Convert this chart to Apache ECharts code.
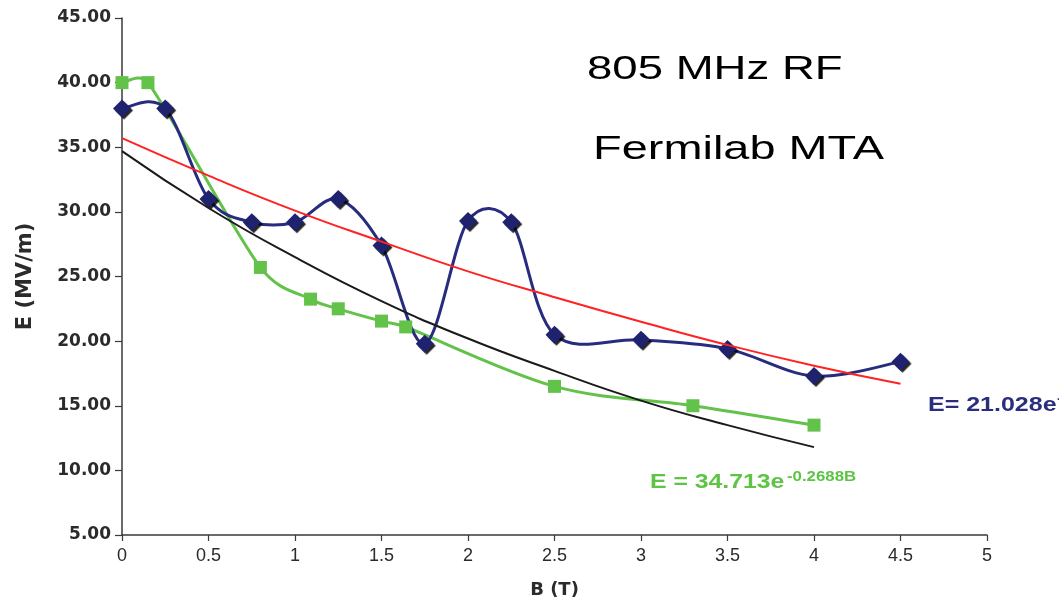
<!DOCTYPE html>
<html>
<head>
<meta charset="utf-8">
<script src="https://cdn.jsdelivr.net/npm/echarts@6/dist/echarts.min.js"></script>
<style>
  html, body { margin: 0; padding: 0; background: #ffffff; }
  #chart { width: 1059px; height: 606px; }
</style>
</head>
<body>
<div id="chart"></div>
<script>
// ---- Data ----
// Blue series (diamonds)
const blueB = [0, 0.25, 0.5, 0.75, 1.0, 1.25, 1.5, 1.75, 2.0, 2.25, 2.5, 3.0, 3.5, 4.0, 4.5];
const blueE = [38.0, 38.0, 31.0, 29.2, 29.2, 31.0, 27.4, 19.8, 29.3, 29.2, 20.5, 20.1, 19.4, 17.3, 18.4];
// Green series (squares)
const greenB = [0, 0.15, 0.8, 1.09, 1.25, 1.5, 1.64, 2.5, 3.3, 4.0];
const greenE = [40.0, 40.0, 25.7, 23.25, 22.5, 21.55, 21.1, 16.5, 15.0, 13.5];
// Red trend line
const redB = [0, 0.5, 1.0, 1.5, 2.0, 2.5, 3.0, 3.5, 4.0, 4.5];
const redE = [35.7, 32.8, 30.1, 27.7, 25.4, 23.4, 21.5, 19.7, 18.1, 16.7];
// Black trend line
const blackB = [0, 0.5, 1.0, 1.5, 2.0, 2.5, 3.0, 3.5, 4.0];
const blackE = [34.7, 30.3, 26.5, 23.1, 20.2, 17.7, 15.4, 13.5, 11.8];

// Axis settings
const xMin = 0, xMax = 5, xStep = 0.5;
const yMin = 5, yMax = 45, yStep = 5;

// Texts
const titleLine1 = '805 MHz RF';
const titleLine2 = 'Fermilab MTA';
const blueEq = 'E= 21.028e';
const blueEqSup = '-0.171B';
const greenEq = 'E = 34.713e';
const greenEqSup = '-0.2688B';
const xName = 'B (T)';
const yName = 'E (MV/m)';

const pairs = (xs, ys) => xs.map((x, i) => [x, ys[i]]);

// Spreadsheet-style smoothed curve (Catmull-Rom tangents, limited on short segments),
// positioned through the axes with api.coord
function smoothCurve(xs, ys, color, width, z) {
  return {
    type: 'custom', data: pairs(xs, ys), z: z, silent: true,
    encode: { x: 0, y: 1 },
    renderItem: function (params, api) {
      if (params.dataIndex !== 0) return null;
      const p = xs.map((x, i) => api.coord([x, ys[i]]));
      const n = p.length;
      const dist = (a, b) => Math.hypot(b[0] - a[0], b[1] - a[1]);
      const cap = 0.5;
      function handle(prev, next, segLen) {
        let vx = (next[0] - prev[0]) / 6, vy = (next[1] - prev[1]) / 6;
        const len = Math.hypot(vx, vy);
        const lim = cap * segLen;
        if (len > lim && len > 0) { vx *= lim / len; vy *= lim / len; }
        return [vx, vy];
      }
      let d = 'M' + p[0][0] + ' ' + p[0][1];
      for (let i = 0; i < n - 1; i++) {
        const p0 = p[Math.max(i - 1, 0)], p1 = p[i], p2 = p[i + 1], p3 = p[Math.min(i + 2, n - 1)];
        const seg = dist(p1, p2);
        const h1 = handle(p0, p2, seg);
        const h2 = handle(p1, p3, seg);
        const c1x = p1[0] + h1[0], c1y = p1[1] + h1[1];
        const c2x = p2[0] - h2[0], c2y = p2[1] - h2[1];
        d += ' C' + c1x + ' ' + c1y + ' ' + c2x + ' ' + c2y + ' ' + p2[0] + ' ' + p2[1];
      }
      return {
        type: 'path',
        shape: { pathData: d },
        style: { stroke: color, lineWidth: width, fill: null, lineJoin: 'round', lineCap: 'round' }
      };
    }
  };
}

const chart = echarts.init(document.getElementById('chart'), null, { renderer: 'canvas' });

const axisColor = '#3a3a3a';
const labelColor = '#2b2b2b';
const blueLine = '#282c7e';
const blueMark = '#1f226f';
const green = '#62c24a';

chart.setOption({
  animation: false,
  backgroundColor: '#ffffff',
  grid: { left: 122, right: 72, top: 18, bottom: 71, containLabel: false, outerBoundsMode: 'none' },
  xAxis: {
    type: 'value', min: xMin, max: xMax, interval: xStep,
    name: xName, nameLocation: 'middle', nameGap: 46,
    nameTextStyle: { fontFamily: 'DejaVu Sans', fontWeight: 'bold', fontSize: 18, color: labelColor },
    axisLine: { show: true, lineStyle: { color: axisColor, width: 1.5 } },
    axisTick: { show: true, inside: false, length: 6, lineStyle: { color: axisColor, width: 1.2 } },
    axisLabel: { margin: 12, fontFamily: 'Liberation Sans Narrow, Liberation Sans, Arial', fontSize: 18, color: labelColor },
    splitLine: { show: false }
  },
  yAxis: {
    type: 'value', min: yMin, max: yMax, interval: yStep,
    name: yName, nameLocation: 'middle', nameGap: 86, nameRotate: 90,
    nameTextStyle: { fontFamily: 'DejaVu Sans', fontWeight: 'bold', fontSize: 21, color: labelColor },
    axisLine: { show: true, lineStyle: { color: axisColor, width: 1.5 } },
    axisTick: { show: true, inside: false, length: 7, lineStyle: { color: axisColor, width: 1.2 } },
    axisLabel: {
      margin: 11, fontFamily: 'DejaVu Sans', fontWeight: 'bold', fontSize: 17, color: labelColor,
      formatter: v => v.toFixed(2)
    },
    splitLine: { show: false }
  },
  graphic: [
    { type: 'text', x: 587, y: 70, scaleX: 1.38, z: 100,
      style: { text: titleLine1, fontFamily: 'Liberation Sans, Arial', fontSize: 33, fill: '#000', align: 'left', verticalAlign: 'middle' } },
    { type: 'text', x: 593, y: 149.5, scaleX: 1.38, z: 100,
      style: { text: titleLine2, fontFamily: 'Liberation Sans, Arial', fontSize: 34, fill: '#000', align: 'left', verticalAlign: 'middle' } },
    { type: 'text', x: 928, y: 405.5, scaleX: 1.19, z: 100,
      style: { text: blueEq, fontFamily: 'Liberation Sans, Arial', fontWeight: 'bold', fontSize: 21, fill: '#2b2e7e', align: 'left', verticalAlign: 'middle' } },
    { type: 'text', x: 1057, y: 399, scaleX: 1.2, z: 100,
      style: { text: blueEqSup, fontFamily: 'Liberation Sans, Arial', fontWeight: 'bold', fontSize: 14, fill: '#2b2e7e', align: 'left', verticalAlign: 'middle' } },
    { type: 'text', x: 650, y: 482.5, scaleX: 1.18, z: 100,
      style: { text: greenEq, fontFamily: 'Liberation Sans, Arial', fontWeight: 'bold', fontSize: 21, fill: '#5fc446', align: 'left', verticalAlign: 'middle' } },
    { type: 'text', x: 787, y: 477, scaleX: 1.2, z: 100,
      style: { text: greenEqSup, fontFamily: 'Liberation Sans, Arial', fontWeight: 'bold', fontSize: 14, fill: '#5fc446', align: 'left', verticalAlign: 'middle' } }
  ],
  series: [
    smoothCurve(greenB, greenE, green, 3, 2),
    smoothCurve(blueB, blueE, blueLine, 3, 3),
    {
      type: 'line', name: 'Green data', data: pairs(greenB, greenE),
      symbol: 'rect', symbolSize: 13, z: 4,
      lineStyle: { width: 0, opacity: 0 },
      itemStyle: { color: green }
    },
    {
      type: 'line', name: 'Blue data', data: pairs(blueB, blueE),
      symbol: 'diamond', symbolSize: 18, z: 5,
      lineStyle: { width: 0, opacity: 0 },
      itemStyle: { color: blueMark, shadowColor: 'rgba(0,0,0,0.85)', shadowOffsetX: 2, shadowOffsetY: 2, shadowBlur: 1 }
    },
    {
      type: 'line', name: 'Red trend', data: pairs(redB, redE),
      smooth: true, showSymbol: false, symbol: 'none', z: 6,
      lineStyle: { color: '#ff2222', width: 2 }
    },
    {
      type: 'line', name: 'Black trend', data: pairs(blackB, blackE),
      smooth: true, showSymbol: false, symbol: 'none', z: 6,
      lineStyle: { color: '#1a1a1a', width: 2 }
    }
  ]
});
</script>
</body>
</html>
